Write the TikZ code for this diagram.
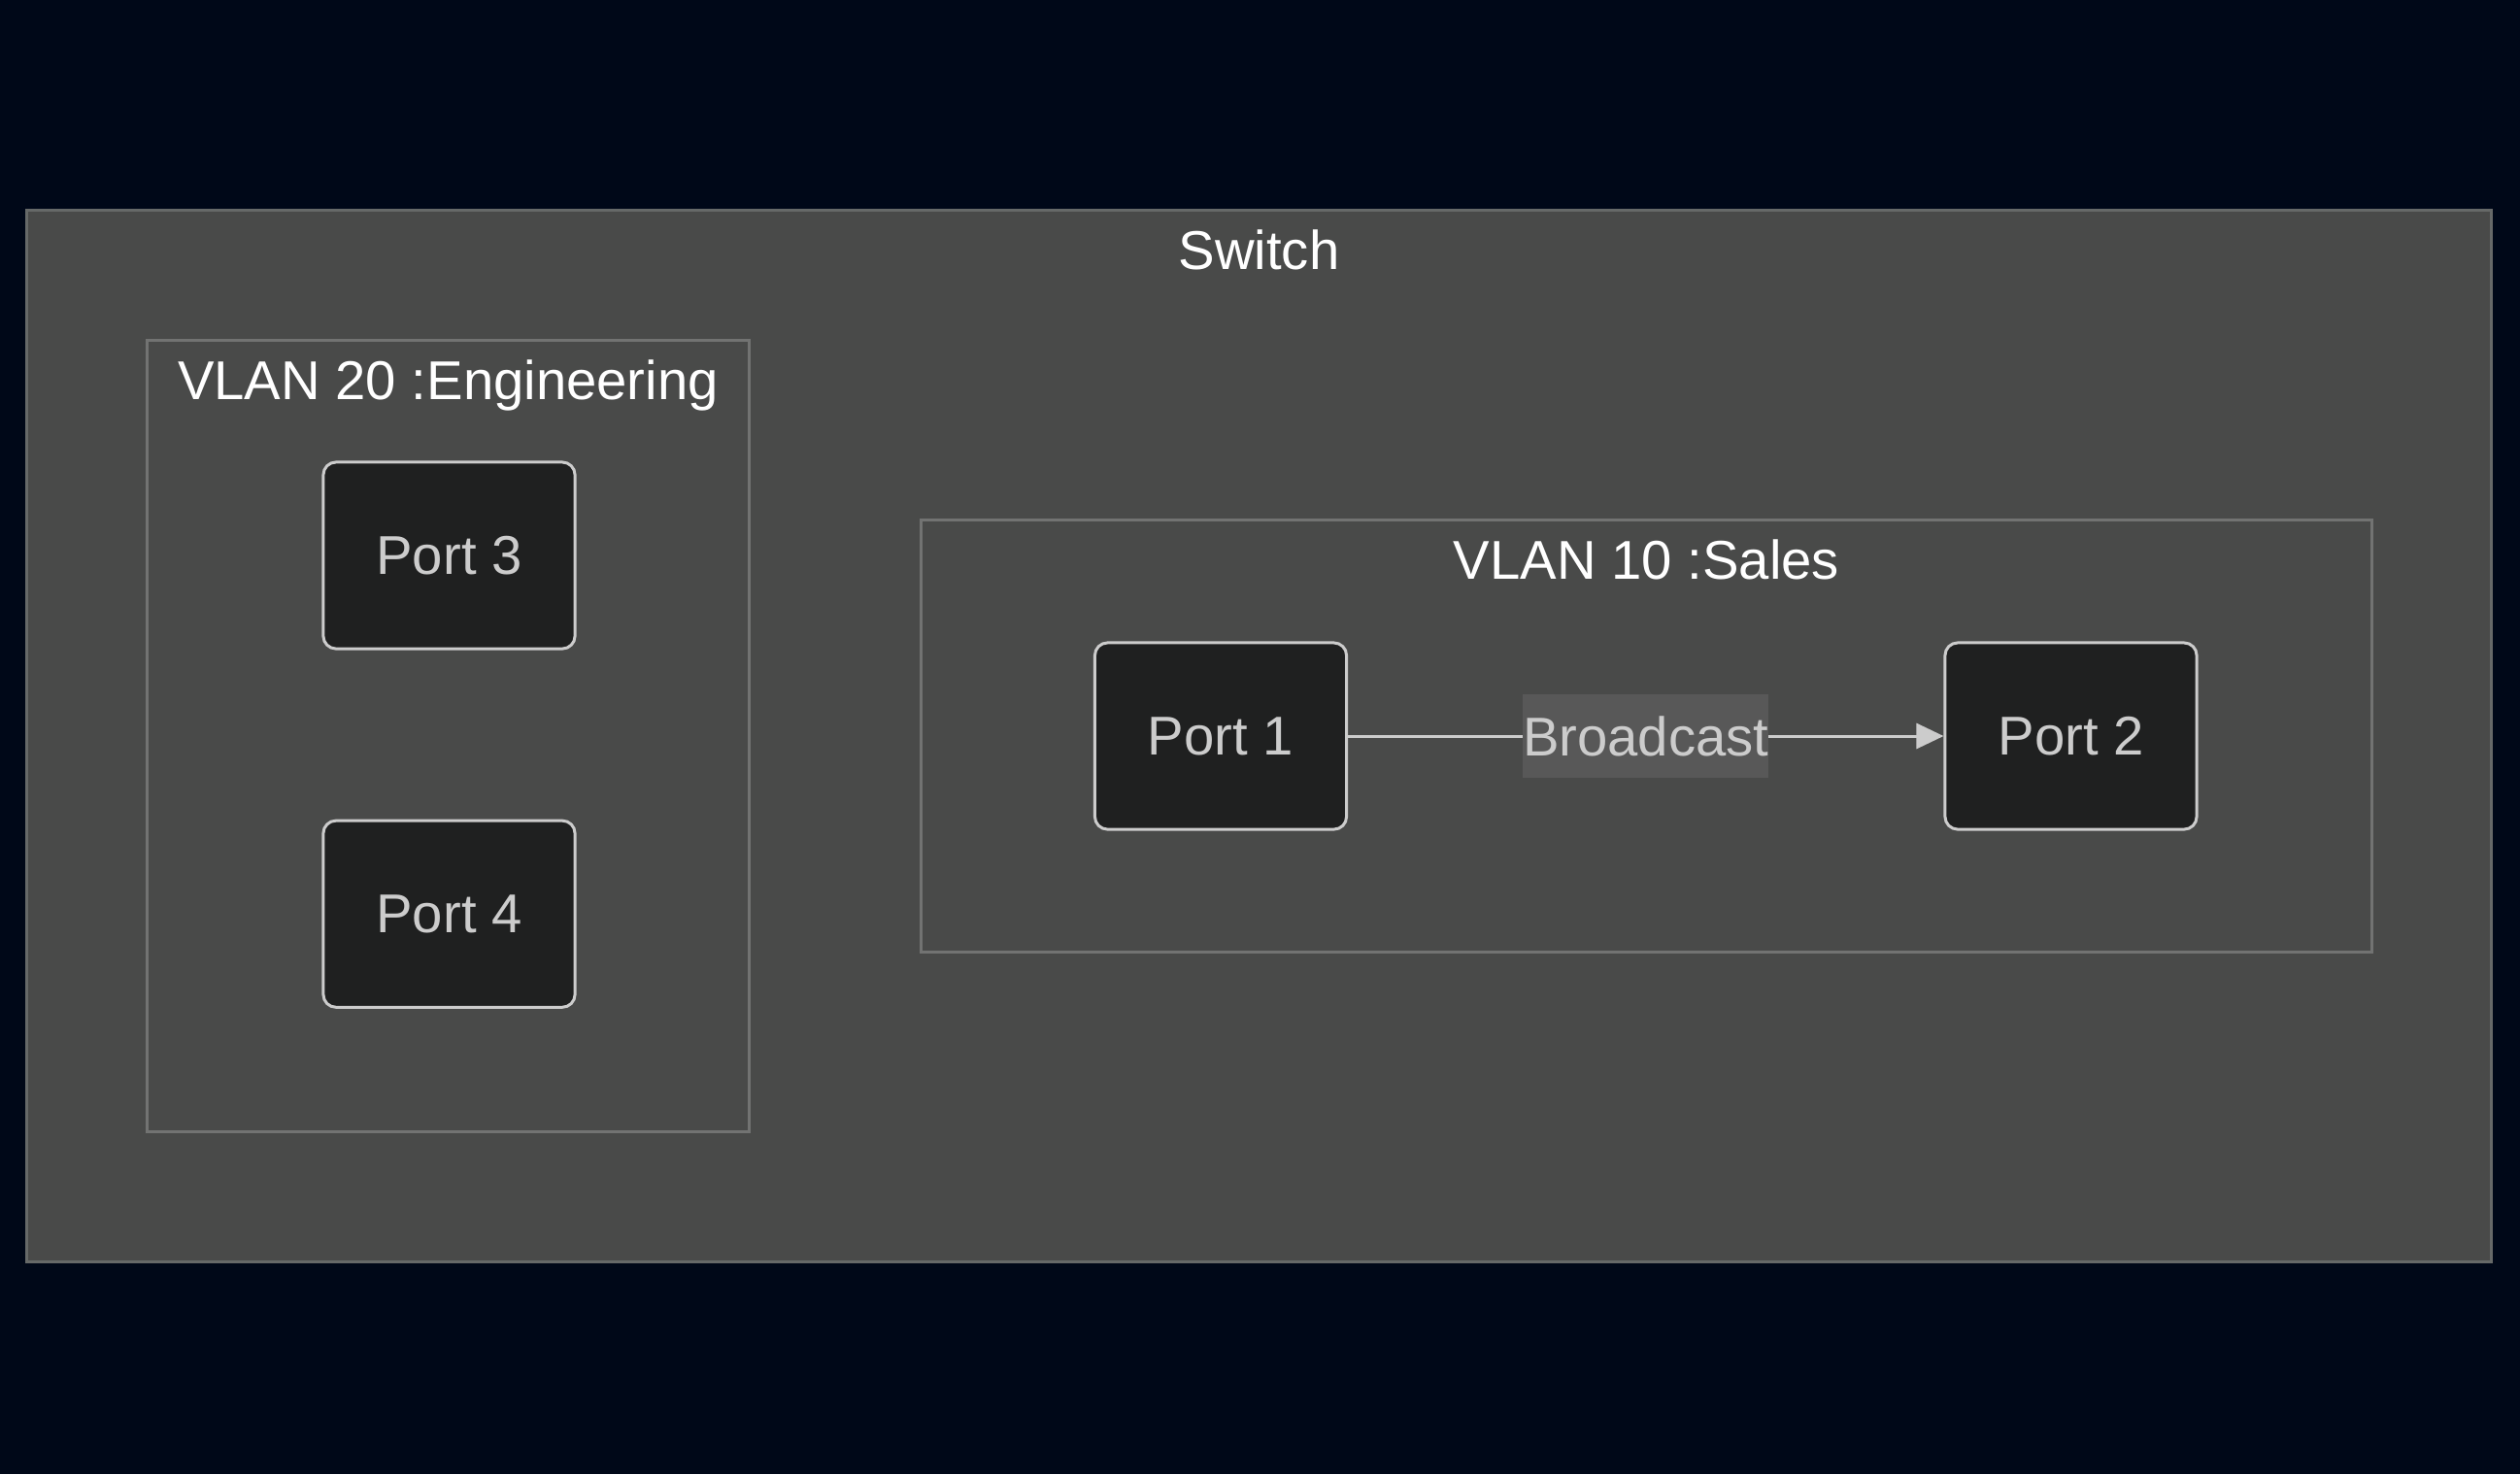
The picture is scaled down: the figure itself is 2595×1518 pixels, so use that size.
\documentclass[tikz,border=0pt]{standalone}
\usepackage{fontspec}
\setmainfont{Liberation Sans}
\usetikzlibrary{positioning,arrows.meta}
\definecolor{bgnavy}{HTML}{000818}
\definecolor{swfill}{HTML}{494A49}
\definecolor{swline}{HTML}{666968}
\definecolor{vlanline}{HTML}{727372}
\definecolor{portfill}{HTML}{1F2020}
\definecolor{portline}{HTML}{CCCCCC}
\definecolor{lblfill}{HTML}{585858}
\tikzset{
  box/.style={draw, rectangle, inner sep=0pt},
  port/.style={draw=portline, fill=portfill, line width=0.85pt, rounded corners=0.13cm,
    minimum width=2.59cm, minimum height=1.92cm, text=portline, font=\fontsize{16pt}{19pt}\selectfont},
  title/.style={anchor=base, text=white, font=\fontsize{16pt}{19pt}\selectfont},
  link/.style={draw=portline, line width=0.85pt, -{Triangle[length=0.28cm,width=0.26cm]}}
}
\begin{document}
\begin{tikzpicture}[x=0.01cm, y=-0.01cm]
    \fill [bgnavy] (0,0) rectangle (2595,1518);
    \useasboundingbox (0,0) rectangle (2595,1518);
    \node [box, draw=swline, fill=swfill, line width=0.8pt, minimum width=25.37cm, minimum height=10.82cm] (switch) at (1296.5,758) {};
    \node [box, draw=vlanline, line width=0.8pt, minimum width=6.19cm, minimum height=8.14cm] (vlan20) at (461.5,758) {};
    \node [box, draw=vlanline, line width=0.8pt, minimum width=14.93cm, minimum height=4.44cm] (vlan10) at (1695.5,758) {};
    \node [title] (switchlbl) at ([yshift=-0.62cm]switch.north) {Switch};
    \node [title] (vlan20lbl) at ([yshift=-0.62cm]vlan20.north) {VLAN 20 :Engineering};
    \node [title] (vlan10lbl) at ([yshift=-0.62cm]vlan10.north) {VLAN 10 :Sales};
    \node [port] (port3) at (462.5,572) {Port 3};
    \node [port, below=1.74cm of port3] (port4) {Port 4};
    \node [port] (port1) at (1257,758) {Port 1};
    \node [port, right=6.13cm of port1] (port2) {Port 2};
    \draw [link] (port1) -- node [fill=lblfill, inner xsep=0pt, minimum height=0.86cm, text=portline,
      font=\fontsize{16pt}{19pt}\selectfont] (bcast) {Broadcast} (port2);
\end{tikzpicture}
\end{document}
